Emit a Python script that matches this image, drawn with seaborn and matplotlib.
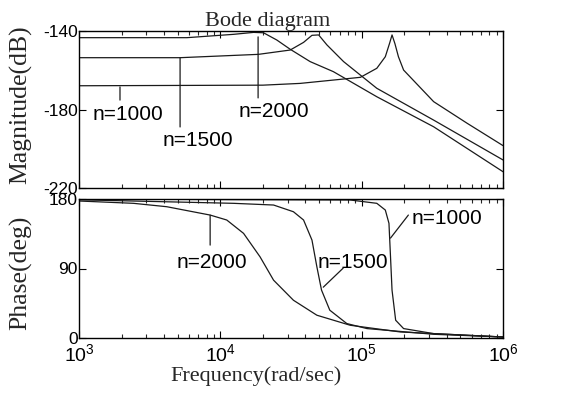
import numpy as np
import pandas as pd
import matplotlib
matplotlib.use("Agg")
import matplotlib.pyplot as plt
from matplotlib import font_manager
import seaborn as sns
from matplotlib.ticker import LogLocator, NullFormatter, FixedLocator

# ---------------- data ----------------
series_names = ["n=1000", "n=1500", "n=2000"]

freq_mag_1000 = [1e3, 2e4, 3.67e4, 6.3e4, 9.8e4, 1.28e5, 1.47e5, 1.58e5, 1.64e5, 1.72e5, 1.82e5, 1.98e5, 3.23e5, 5.57e5, 1e6]
mag_1000 = [-167.9, -167.6, -166.7, -165.0, -163.6, -159.0, -153.1, -146.0, -142.0, -146.5, -153.1, -159.9, -176.0, -187.0, -198.4]

freq_mag_1500 = [1e3, 5.19e3, 1.86e4, 3.12e4, 3.88e4, 4.45e4, 4.96e4, 5.68e4, 7.45e4, 1.28e5, 3.23e5, 1e6]
mag_1500 = [-153.6, -153.6, -151.9, -149.7, -145.8, -142.2, -142.0, -147.1, -155.6, -169.2, -185.4, -205.7]

freq_mag_2000 = [1e3, 5.8e3, 1.24e4, 1.72e4, 2.02e4, 2.51e4, 3.12e4, 4.32e4, 6.3e4, 1.28e5, 3.23e5, 1e6]
mag_2000 = [-143.4, -143.4, -141.7, -140.7, -140.9, -144.6, -149.3, -155.6, -160.7, -173.5, -188.8, -211.7]

freq_ph_1000 = [1e3, 8.3e4, 1.28e5, 1.47e5, 1.56e5, 1.6e5, 1.64e5, 1.74e5, 1.98e5, 3.23e5, 1e6]
ph_1000 = [180.0, 178.7, 174.4, 165.7, 148.5, 105.1, 62.0, 23.0, 12.2, 5.7, 1.3]

freq_ph_1500 = [1e3, 1.24e4, 2.38e4, 3.29e4, 3.88e4, 4.45e4, 4.82e4, 5.2e4, 5.95e4, 7.85e4, 1.09e5, 3.23e5, 1e6]
ph_1500 = [179.0, 174.4, 172.2, 163.5, 152.8, 126.8, 92.2, 62.0, 36.0, 18.7, 12.2, 4.8, 1.3]

freq_ph_2000 = [1e3, 2.43e3, 4.18e3, 8.47e3, 1.11e4, 1.46e4, 1.91e4, 2.38e4, 3.29e4, 4.82e4, 8.3e4, 1.88e5, 1e6]
ph_2000 = [177.4, 174.4, 170.0, 159.2, 152.8, 135.5, 105.1, 74.9, 48.9, 29.5, 16.5, 7.8, 1.3]

mag_ticks = [-220, -180, -140]
phase_ticks = [0, 90, 180]

# ---------------- build tables ----------------
df_mag = pd.concat([
    pd.DataFrame({"freq": freq_mag_1000, "val": mag_1000, "n": series_names[0]}),
    pd.DataFrame({"freq": freq_mag_1500, "val": mag_1500, "n": series_names[1]}),
    pd.DataFrame({"freq": freq_mag_2000, "val": mag_2000, "n": series_names[2]}),
], ignore_index=True)
df_ph = pd.concat([
    pd.DataFrame({"freq": freq_ph_1000, "val": ph_1000, "n": series_names[0]}),
    pd.DataFrame({"freq": freq_ph_1500, "val": ph_1500, "n": series_names[1]}),
    pd.DataFrame({"freq": freq_ph_2000, "val": ph_2000, "n": series_names[2]}),
], ignore_index=True)

# ---------------- style ----------------
sns.set_theme(style="white")
available = {f.name for f in font_manager.fontManager.ttflist}
tick_family = "Liberation Sans"
tick_size = 12.5
for cand in ["Liberation Sans Narrow", "DejaVu Sans Condensed", "Arial Narrow"]:
    if cand in available:
        tick_family = cand
        tick_size = 14
        break

plt.rcParams["font.family"] = [tick_family, "Liberation Sans", "DejaVu Sans"]
plt.rcParams["axes.unicode_minus"] = False
plt.rcParams["mathtext.fontset"] = "custom"
plt.rcParams["mathtext.rm"] = tick_family
plt.rcParams["mathtext.it"] = tick_family
plt.rcParams["axes.edgecolor"] = "black"
plt.rcParams["axes.linewidth"] = 1.0

W, H = 563, 398
fig = plt.figure(figsize=(W / 100, H / 100), dpi=100)
fig.patch.set_facecolor("white")

ax1 = fig.add_axes([79 / W, 1 - 188 / H, 424 / W, 157 / H])
ax2 = fig.add_axes([79 / W, 1 - 338 / H, 424 / W, 139 / H])

pal = {s: "#1a1a1a" for s in series_names}
for ax, df in ((ax1, df_mag), (ax2, df_ph)):
    sns.lineplot(data=df, x="freq", y="val", hue="n", palette=pal, estimator=None,
                 sort=False, legend=False, ax=ax, linewidth=0.9)
    ax.set_xscale("log")
    ax.set_xlim(1e3, 1e6)
    ax.xaxis.set_major_locator(LogLocator(base=10, numticks=10))
    ax.xaxis.set_minor_locator(LogLocator(base=10, subs=np.arange(2, 10), numticks=20))
    ax.xaxis.set_minor_formatter(NullFormatter())
    ax.tick_params(which="major", direction="in", length=5, width=0.8, top=True, right=True,
                   bottom=True, left=True, labelsize=tick_size, colors="black")
    ax.tick_params(axis="y", which="major", pad=1)
    ax.tick_params(axis="x", which="major", pad=4, labelsize=tick_size + 1.5)
    ax.tick_params(which="minor", direction="in", length=3, width=0.8, top=True, bottom=True)
    ax.set_facecolor("white")
    for sp in ax.spines.values():
        sp.set_visible(True)
        sp.set_color("black")

ax1.set_ylim(-220, -140)
ax1.yaxis.set_major_locator(FixedLocator(mag_ticks))
ax1.set_xticklabels([])
ax1.set_xlabel("")
ax1.set_ylabel("Magnitude(dB)", family="Liberation Serif", fontsize=18.5)
ax1.yaxis.set_label_coords(-0.11, 0.53)
ax1.set_title("Bode diagram", family="Liberation Serif", fontsize=16, pad=2, x=0.445)

ax2.set_ylim(0, 180)
ax2.yaxis.set_major_locator(FixedLocator(phase_ticks))
ax2.set_xlabel("Frequency(rad/sec)", family="Liberation Serif", fontsize=16)
ax2.xaxis.set_label_coords(0.417, -0.2)
ax2.set_ylabel("Phase(deg)", family="Liberation Serif", fontsize=18.5)
ax2.yaxis.set_label_coords(-0.11, 0.47)

lab = dict(family="Liberation Sans", fontsize=15, ha="center", va="center", color="black")
line = dict(arrowstyle="-", color="#1a1a1a", lw=0.9, shrinkA=0, shrinkB=0)

# magnitude annotations
ax1.text(2.22e3, -182.8, "n=1000", **lab)
ax1.annotate("", xy=(1.95e3, -168.5), xytext=(1.95e3, -175.2), arrowprops=line)
ax1.text(6.97e3, -196.0, "n=1500", **lab)
ax1.annotate("", xy=(5.19e3, -153.6), xytext=(5.19e3, -188.9), arrowprops=line)
ax1.text(2.4e4, -180.8, "n=2000", **lab)
ax1.annotate("", xy=(1.85e4, -143.0), xytext=(1.85e4, -174.1), arrowprops=line)

# phase annotations
ax2.text(8.75e3, 98.2, "n=2000", **lab)
ax2.annotate("", xy=(8.47e3, 159.0), xytext=(8.47e3, 120.3), arrowprops=line)
ax2.text(8.7e4, 98.2, "n=1500", **lab)
ax2.annotate("", xy=(5.35e4, 65.8), xytext=(7.4e4, 90.5), arrowprops=line)
ax2.text(3.98e5, 155.3, "n=1000", **lab)
ax2.annotate("", xy=(1.6e5, 129.4), xytext=(2.14e5, 159.2), arrowprops=line)

fig.savefig("out.png", dpi=100, facecolor="white")
